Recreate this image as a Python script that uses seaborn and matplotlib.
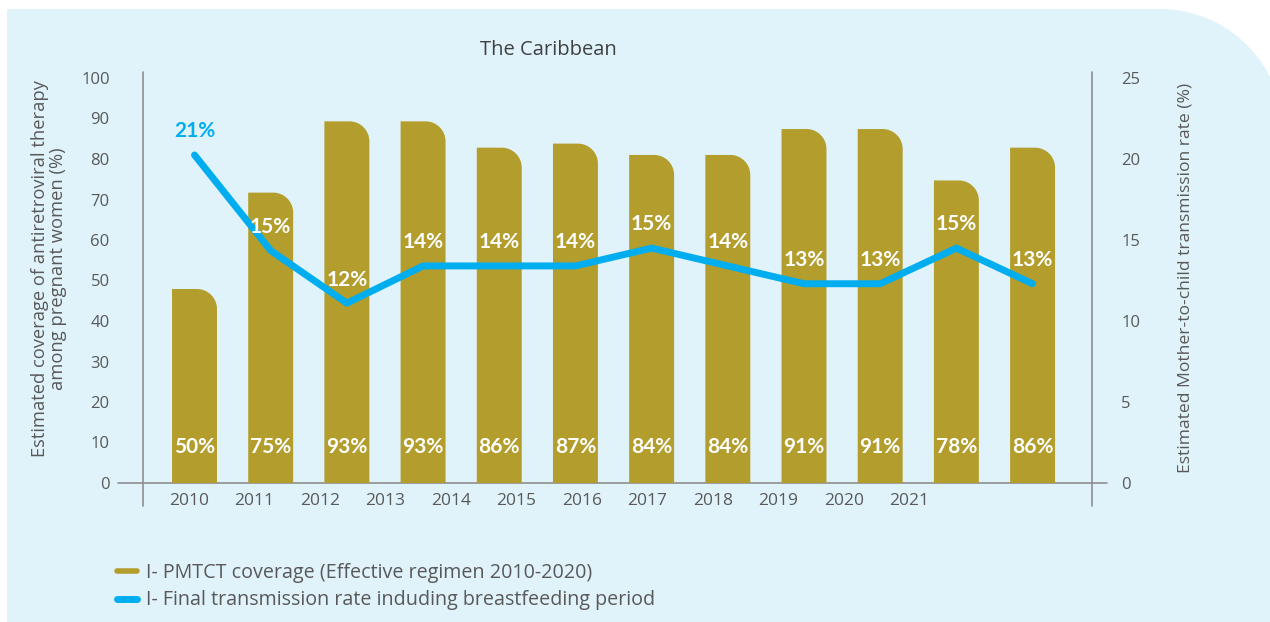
import numpy as np
import pandas as pd
import seaborn as sns
import matplotlib.pyplot as plt
from matplotlib.path import Path
from matplotlib.patches import PathPatch, Polygon
from matplotlib.lines import Line2D

# Data
years = ["2010", "2011", "2012", "2013", "2014", "2015",
         "2016", "2017", "2018", "2019", "2020", "2021"]
coverage = [47.9, 71.7, 89.3, 89.3, 82.8, 83.8, 81.0, 81.0, 87.4, 87.4, 74.7, 82.8]
coverage_labels = ["50%", "75%", "93%", "93%", "86%", "87%",
                   "84%", "84%", "91%", "91%", "78%", "86%"]
transmission = [20.25, 14.35, 11.1, 13.4, 13.4, 13.4, 14.5, 13.4, 12.3, 12.3, 14.5, 12.3]
transmission_labels = ["21%", "15%", "12%", "14%", "14%", "14%",
                       "15%", "14%", "13%", "13%", "15%", "13%"]
legend_labels = ["I- PMTCT coverage (Effective regimen 2010-2020)",
                 "I- Final transmission rate induding breastfeeding period"]

OLIVE = "#B39D2D"
BLUE = "#00AEEF"
PANEL = "#E0F3FB"
GREY = "#595959"

sns.set_style("white")
plt.rcParams["font.family"] = ["Open Sans", "DejaVu Sans"]

W, H = 1270, 622
fig = plt.figure(figsize=(W / 100, H / 100), dpi=100)

# light blue panel with a big rounded top-right corner
cx, cy, r = 1160, 490, 123
theta = np.linspace(np.pi / 2, 0, 60)
pts = [(7, -10), (7, 613)] + list(zip(cx + r * np.cos(theta), cy + r * np.sin(theta))) + [(1290, -10)]
pts = np.array(pts) / [W, H]
fig.add_artist(Polygon(pts, closed=True, transform=fig.transFigure, fc=PANEL, ec="none", zorder=-5))

ax = fig.add_axes([143 / W, 1 - 483 / H, 949 / W, 405 / H])
ax.patch.set_visible(False)

df = pd.DataFrame({"year": years, "coverage": coverage, "transmission": transmission})
df["pos"] = np.arange(len(df))

sns.barplot(data=df, x="year", y="coverage", color=OLIVE, saturation=1, width=0.59, ax=ax)
xlim = (-0.676, 11.78)
ax.set_xlim(*xlim)
ax.set_ylim(0, 100)

# swap the square bars for bars with a rounded top-right corner
bb = ax.get_window_extent()
rx = 20 / (bb.width / (xlim[1] - xlim[0]))
ry = 20 / (bb.height / 100)
k = 0.5523
codes = [Path.MOVETO, Path.LINETO, Path.LINETO, Path.CURVE4, Path.CURVE4, Path.CURVE4,
         Path.LINETO, Path.CLOSEPOLY]
for bar in list(ax.patches):
    x0, w, h = bar.get_x(), bar.get_width(), bar.get_height()
    x1 = x0 + w
    verts = [(x0, 0), (x0, h), (x1 - rx, h), (x1 - rx + k * rx, h),
             (x1, h - ry + k * ry), (x1, h - ry), (x1, 0), (x0, 0)]
    ax.add_patch(PathPatch(Path(verts, codes), fc=OLIVE, ec="none", zorder=2))
    bar.remove()

for i, lab in enumerate(coverage_labels):
    ax.text(i, 8.9, lab, ha="center", va="center", color="white",
            fontsize=15, fontweight="bold", family="Lato", zorder=3)

# the year labels in the original drift left of the bars
tick_pos = np.linspace(-0.07, 9.38, len(years))
ax.set_xticks(tick_pos, years)
ax.set_yticks(range(0, 101, 10))
ax.tick_params(axis="x", length=0, pad=7, labelsize=12.5, labelcolor=GREY)
ax.tick_params(axis="y", length=0, pad=24, labelsize=12, labelcolor=GREY)
ax.set_xlabel("")
ax.set_ylabel("Estimated coverage of antiretroviral therapy\namong pregnant women (%)",
              fontsize=13.2, color=GREY, linespacing=1.0)
ax.yaxis.set_label_coords(-0.08, 0.53)

ax2 = ax.twinx()
sns.lineplot(data=df, x="pos", y="transmission", color=BLUE, lw=5,
             solid_capstyle="round", ax=ax2)
ax2.set_xlim(*xlim)
ax2.set_ylim(0, 25)
ax2.set_yticks(range(0, 26, 5))
ax2.tick_params(axis="y", length=0, pad=21, labelsize=12, labelcolor=GREY)
ax2.set_ylabel("Estimated Mother-to-child transmission rate (%)", fontsize=12.6, color=GREY)
ax2.yaxis.set_label_coords(1.0906, 0.506)

for i, (v, lab) in enumerate(zip(transmission, transmission_labels)):
    ax2.annotate(lab, (i, v), xytext=(0, 17), textcoords="offset points",
                 ha="center", va="center", color=BLUE if i == 0 else "white",
                 fontsize=15, fontweight="bold", family="Lato")

for a in (ax, ax2):
    for s in a.spines.values():
        s.set_visible(False)

line_kw = dict(color="#8f8f8f", lw=1.2, transform=ax.transAxes, clip_on=False, zorder=1)
ax.plot([-0.026, 1.016], [0, 0], **line_kw)
ax.plot([0, 0], [-0.057, 1.015], **line_kw)
ax.plot([1, 1], [-0.057, 1.015], **line_kw)

fig.text(548 / W, 1 - 50 / H, "The Caribbean", ha="center", va="center",
         fontsize=14.5, color="#404040")

handles = [Line2D([], [], color=OLIVE, lw=4),
           Line2D([], [], color=BLUE, lw=5, solid_capstyle="round")]
fig.legend(handles, legend_labels, loc="upper left", bbox_to_anchor=(117 / W, 1 - 563 / H),
           frameon=False, fontsize=14.2, handlelength=1.0, handletextpad=0.45,
           labelspacing=0.38, borderpad=0, borderaxespad=0, labelcolor=GREY)

fig.savefig("out.png", dpi=100)
